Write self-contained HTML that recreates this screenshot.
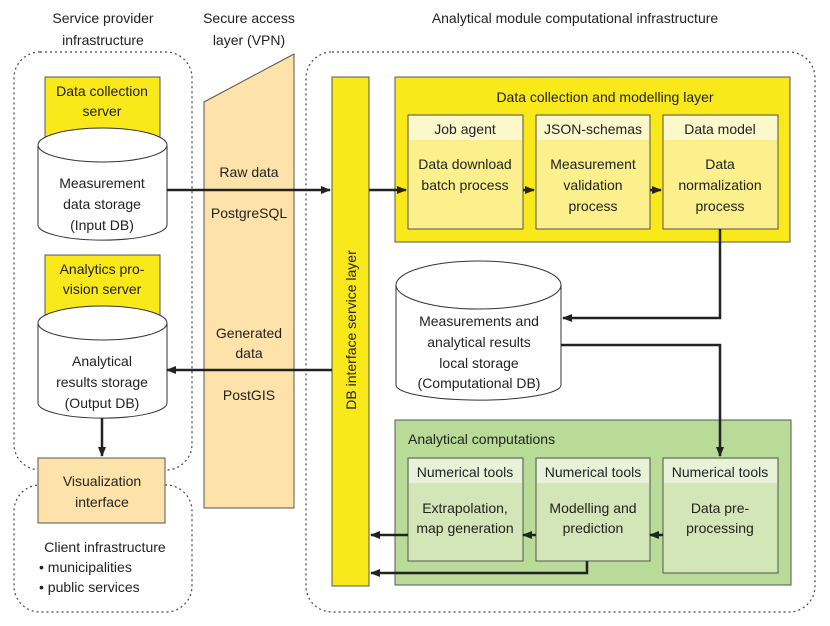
<!DOCTYPE html>
<html><head><style>
body{margin:0;background:#fff}
svg{display:block}
text{font-family:"Liberation Sans",sans-serif;font-size:14px;fill:#222;text-anchor:middle}
</style></head><body>
<svg width="830" height="626" viewBox="0 0 830 626" xmlns="http://www.w3.org/2000/svg">
<defs><marker id="a" markerWidth="10" markerHeight="8" refX="9" refY="4" orient="auto" markerUnits="userSpaceOnUse"><path d="M0,0 L10,4 L0,8 z" fill="#222"/></marker></defs>
<g fill="none" stroke="#444" stroke-dasharray="2,3" stroke-width="1.2">
<rect x="14" y="52" width="178" height="418" rx="26"/>
<rect x="14" y="485" width="178" height="127" rx="26"/>
<rect x="306" y="52" width="509" height="560" rx="26"/>
</g>
<text x="103" y="23">Service provider</text><text x="103" y="45">infrastructure</text>
<text x="249" y="23">Secure access</text><text x="249" y="45">layer (VPN)</text>
<text x="575" y="23">Analytical module computational infrastructure</text>
<polygon points="204,102 294,54 294,508 204,508" fill="#fde3aa" stroke="#555"/>
<text x="249" y="177">Raw data</text><text x="249" y="218">PostgreSQL</text>
<text x="249" y="338">Generated</text><text x="249" y="358">data</text><text x="249" y="400">PostGIS</text>
<!-- servers -->
<rect x="45" y="77" width="115" height="70" fill="#f9e81a" stroke="#555"/>
<text x="102" y="96">Data collection</text><text x="102" y="116">server</text>
<path d="M38,145 V225 A64,15 0 0 0 167,225 V145" fill="#fff" stroke="#333"/>
<ellipse cx="102.5" cy="145" rx="64.5" ry="17" fill="#fff" stroke="#333"/>
<text x="102" y="188">Measurement</text><text x="102" y="209">data storage</text><text x="102" y="230">(Input DB)</text>
<rect x="45" y="255" width="115" height="70" fill="#f9e81a" stroke="#555"/>
<text x="102" y="274">Analytics pro-</text><text x="102" y="294">vision server</text>
<path d="M38,323 V403 A64,15 0 0 0 167,403 V323" fill="#fff" stroke="#333"/>
<ellipse cx="102.5" cy="323" rx="64.5" ry="17" fill="#fff" stroke="#333"/>
<text x="102" y="366">Analytical</text><text x="102" y="387">results storage</text><text x="102" y="408">(Output DB)</text>
<line x1="102" y1="418" x2="102" y2="456" stroke="#222" stroke-width="2.5" marker-end="url(#a)"/>
<rect x="38" y="458" width="127" height="65" fill="#fde3aa" stroke="#555"/>
<text x="102" y="486">Visualization</text><text x="102" y="507">interface</text>
<text x="105" y="552">Client infrastructure</text>
<text x="39" y="572" style="text-anchor:start">•  municipalities</text>
<text x="39" y="592" style="text-anchor:start">•  public services</text>
<!-- DB bar -->
<rect x="332" y="77" width="37" height="509" fill="#f9e81a" stroke="#555"/>
<text transform="translate(356,330) rotate(-90)">DB interface service layer</text>
<!-- data collection layer -->
<rect x="395" y="77" width="395" height="165" fill="#f9e81a" stroke="#555"/>
<text x="605" y="102">Data collection and modelling layer</text>
<g stroke="#555">
<rect x="408" y="115" width="115" height="114" fill="#fbf08c"/>
<rect x="536" y="115" width="114" height="114" fill="#fbf08c"/>
<rect x="663" y="115" width="115" height="114" fill="#fbf08c"/>
</g>
<g fill="#fdf7cc"><rect x="409" y="116" width="113" height="24"/><rect x="537" y="116" width="112" height="24"/><rect x="664" y="116" width="113" height="24"/></g>
<text x="465" y="134">Job agent</text><text x="593" y="134">JSON-schemas</text><text x="720" y="134">Data model</text>
<text x="465" y="169">Data download</text><text x="465" y="190">batch process</text>
<text x="593" y="169">Measurement</text><text x="593" y="190">validation</text><text x="593" y="211">process</text>
<text x="720" y="169">Data</text><text x="720" y="190">normalization</text><text x="720" y="211">process</text>
<!-- computational DB -->
<path d="M396,285 V385 A82,15 0 0 0 561,385 V285" fill="#fff" stroke="#333"/>
<ellipse cx="478.5" cy="285" rx="82.5" ry="24" fill="#fff" stroke="#333"/>
<text x="479" y="326">Measurements and</text><text x="479" y="347">analytical results</text><text x="479" y="368">local storage</text><text x="479" y="388">(Computational DB)</text>
<!-- green -->
<rect x="395" y="420" width="396" height="165" fill="#b9db98" stroke="#555"/>
<text x="408" y="444" style="text-anchor:start">Analytical computations</text>
<g stroke="#555" fill="#d3e6b8">
<rect x="408" y="458" width="115" height="103"/>
<rect x="536" y="458" width="114" height="103"/>
<rect x="663" y="458" width="115" height="115"/>
</g>
<g fill="#e7f2d9"><rect x="409" y="459" width="113" height="24"/><rect x="537" y="459" width="112" height="24"/><rect x="664" y="459" width="113" height="24"/></g>
<text x="465" y="477">Numerical tools</text><text x="593" y="477">Numerical tools</text><text x="720" y="477">Numerical tools</text>
<text x="465" y="513">Extrapolation,</text><text x="465" y="533">map generation</text>
<text x="593" y="513">Modelling and</text><text x="593" y="533">prediction</text>
<text x="720" y="513">Data pre-</text><text x="720" y="533">processing</text>
<!-- arrows -->
<g stroke="#222" stroke-width="2.5" fill="none" marker-end="url(#a)">
<line x1="167" y1="190" x2="330" y2="190"/>
<line x1="369" y1="190" x2="406" y2="190"/>
<line x1="523" y1="190" x2="534" y2="190"/>
<line x1="650" y1="190" x2="661" y2="190"/>
<polyline points="720,229 720,318 563,318"/>
<polyline points="561,345 720,345 720,456"/>
<line x1="332" y1="370" x2="167" y2="370"/>
<line x1="408" y1="535" x2="371" y2="535"/>
<line x1="536" y1="535" x2="523" y2="535"/>
<line x1="663" y1="535" x2="650" y2="535"/>
<polyline points="587,561 587,573 371,573"/>
</g>
</svg>
</body></html>
